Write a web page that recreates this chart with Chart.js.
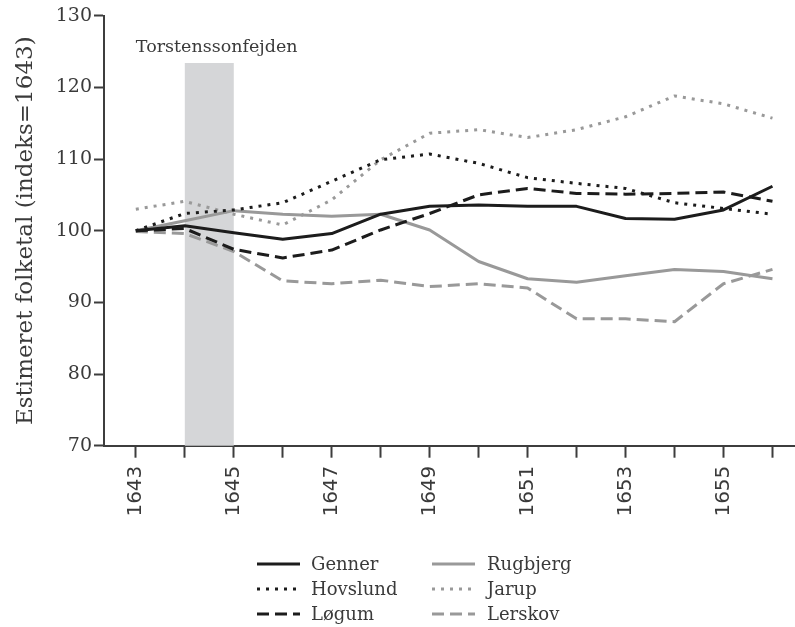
<!DOCTYPE html>
<html>
<head>
<meta charset="utf-8">
<script src="https://cdn.jsdelivr.net/npm/chart.js@4/dist/chart.umd.min.js"></script>
<style>
  html, body { margin: 0; padding: 0; background: #ffffff; }
  #wrap { width: 795px; height: 627px; }
</style>
</head>
<body>
<div id="wrap"><canvas id="c" width="795" height="627"></canvas></div>
<script>
// ---- data ----
const years = [1643, 1644, 1645, 1646, 1647, 1648, 1649, 1650, 1651, 1652, 1653, 1654, 1655, 1656];
const labelledYears = [1643, 1645, 1647, 1649, 1651, 1653, 1655];
const yTicks = [70, 80, 90, 100, 110, 120, 130];

const genner   = [100.0, 100.7, 99.7, 98.8, 99.6, 102.3, 103.4, 103.6, 103.4, 103.4, 101.7, 101.6, 102.9, 106.2];
const hovslund = [100.0, 102.4, 102.9, 103.9, 106.9, 109.9, 110.7, 109.4, 107.4, 106.6, 105.9, 103.9, 103.1, 102.3];
const logum    = [100.0, 100.3, 97.4, 96.2, 97.3, 100.1, 102.4, 105.0, 105.9, 105.2, 105.1, 105.2, 105.4, 104.1];
const rugbjerg = [100.0, 101.4, 102.8, 102.3, 102.0, 102.3, 100.1, 95.7, 93.3, 92.8, 93.7, 94.6, 94.3, 93.3];
const jarup    = [103.0, 104.1, 102.3, 100.8, 104.3, 109.9, 113.6, 114.1, 113.0, 114.1, 115.9, 118.8, 117.7, 115.7];
const lerskov  = [99.9, 99.6, 97.1, 93.0, 92.6, 93.1, 92.2, 92.6, 92.0, 87.7, 87.7, 87.3, 92.6, 94.6];

const warLabel = 'Torstenssonfejden';
const warStart = 1644, warEnd = 1645, warTop = 123.4, warTextY = 125;
const yTitle = 'Estimeret folketal (indeks=1643)';

// ---- styles ----
const BLACK = '#1c1c1c';
const GREY = '#999999';
const AXIS = '#3d3d3d';
const TEXT = '#3a3a3a';
const DOT = [3, 6];
const DASH = [12, 6];

function pts(arr) { return years.map((y, i) => ({ x: y, y: arr[i] })); }
function ds(label, arr, color, dash) {
  return { label, data: pts(arr), borderColor: color, backgroundColor: color, borderWidth: 3,
           borderDash: dash, borderCapStyle: 'butt', borderJoinStyle: 'round',
           pointRadius: 0, tension: 0, fill: false };
}

const datasets = [
  ds('Genner', genner, BLACK, []),
  ds('Hovslund', hovslund, BLACK, DOT),
  ds('Løgum', logum, BLACK, DASH),
  ds('Rugbjerg', rugbjerg, GREY, []),
  ds('Jarup', jarup, GREY, DOT),
  ds('Lerskov', lerskov, GREY, DASH)
];

const warPlugin = {
  id: 'war',
  beforeDatasetsDraw(chart) {
    const { ctx, scales: { x, y } } = chart;
    const x0 = x.getPixelForValue(warStart), x1 = x.getPixelForValue(warEnd);
    const yTop = y.getPixelForValue(warTop), yBot = y.getPixelForValue(70);
    ctx.save();
    ctx.fillStyle = '#d5d6d8';
    ctx.fillRect(x0, yTop, x1 - x0, yBot - yTop);
    ctx.fillStyle = TEXT;
    ctx.font = '17.5px "DejaVu Serif"';
    ctx.textAlign = 'left';
    ctx.textBaseline = 'alphabetic';
    ctx.fillText(warLabel, x.getPixelForValue(1643), y.getPixelForValue(warTextY));
    ctx.restore();
  }
};

const legendPlugin = {
  id: 'customLegend',
  afterDraw(chart) {
    const { ctx } = chart;
    const cols = [{ lx: 257, tx: 311 }, { lx: 432, tx: 487 }];
    const rows = [564, 589, 614];
    const order = [[0, 1, 2], [3, 4, 5]];
    ctx.save();
    ctx.font = '18px "DejaVu Serif"';
    ctx.textBaseline = 'middle';
    ctx.textAlign = 'left';
    order.forEach((col, ci) => {
      col.forEach((di, ri) => {
        const d = chart.data.datasets[di];
        const yy = rows[ri];
        ctx.beginPath();
        ctx.strokeStyle = d.borderColor;
        ctx.lineWidth = 3;
        ctx.lineCap = 'butt';
        ctx.setLineDash(d.borderDash || []);
        ctx.moveTo(cols[ci].lx, yy);
        ctx.lineTo(cols[ci].lx + 43, yy);
        ctx.stroke();
        ctx.setLineDash([]);
        ctx.fillStyle = TEXT;
        ctx.fillText(d.label, cols[ci].tx, yy + 1);
      });
    });
    ctx.restore();
  }
};

new Chart(document.getElementById('c'), {
  type: 'line',
  data: { datasets },
  plugins: [warPlugin, legendPlugin],
  options: {
    responsive: false,
    animation: false,
    devicePixelRatio: 1,
    layout: { padding: { left: 12, top: 15.7, right: 0, bottom: 0 } },
    plugins: { legend: { display: false }, tooltip: { enabled: false } },
    scales: {
      x: {
        type: 'linear',
        min: 1642.35,
        max: 1656.46,
        afterBuildTicks(scale) { scale.ticks = years.map(v => ({ value: v })); },
        afterFit(scale) { scale.height = 181.3; scale.paddingRight = 0; scale.paddingLeft = 0; },
        grid: { drawOnChartArea: false, drawTicks: true, tickLength: 12, tickWidth: 2, tickColor: AXIS },
        border: { display: true, color: AXIS, width: 2 },
        ticks: {
          autoSkip: false, minRotation: 90, maxRotation: 90, padding: 8,
          color: TEXT, font: { family: 'DejaVu Sans', size: 20 },
          callback(v) { return labelledYears.includes(v) ? String(v) : ''; }
        }
      },
      y: {
        min: 70, max: 130,
        afterBuildTicks(scale) { scale.ticks = yTicks.map(v => ({ value: v })); },
        afterFit(scale) { scale.width = 92; scale.paddingTop = 0; scale.paddingBottom = 0; },
        grid: { drawOnChartArea: false, drawTicks: true, tickLength: 10, tickWidth: 2, tickColor: AXIS },
        border: { display: true, color: AXIS, width: 2 },
        ticks: { padding: 2, color: TEXT, font: { family: 'DejaVu Serif', size: 19 } },
        title: { display: true, text: yTitle, color: TEXT, padding: 0,
                 font: { family: 'DejaVu Serif', size: 23, weight: 'normal' } }
      }
    }
  }
});
</script>
</body>
</html>
